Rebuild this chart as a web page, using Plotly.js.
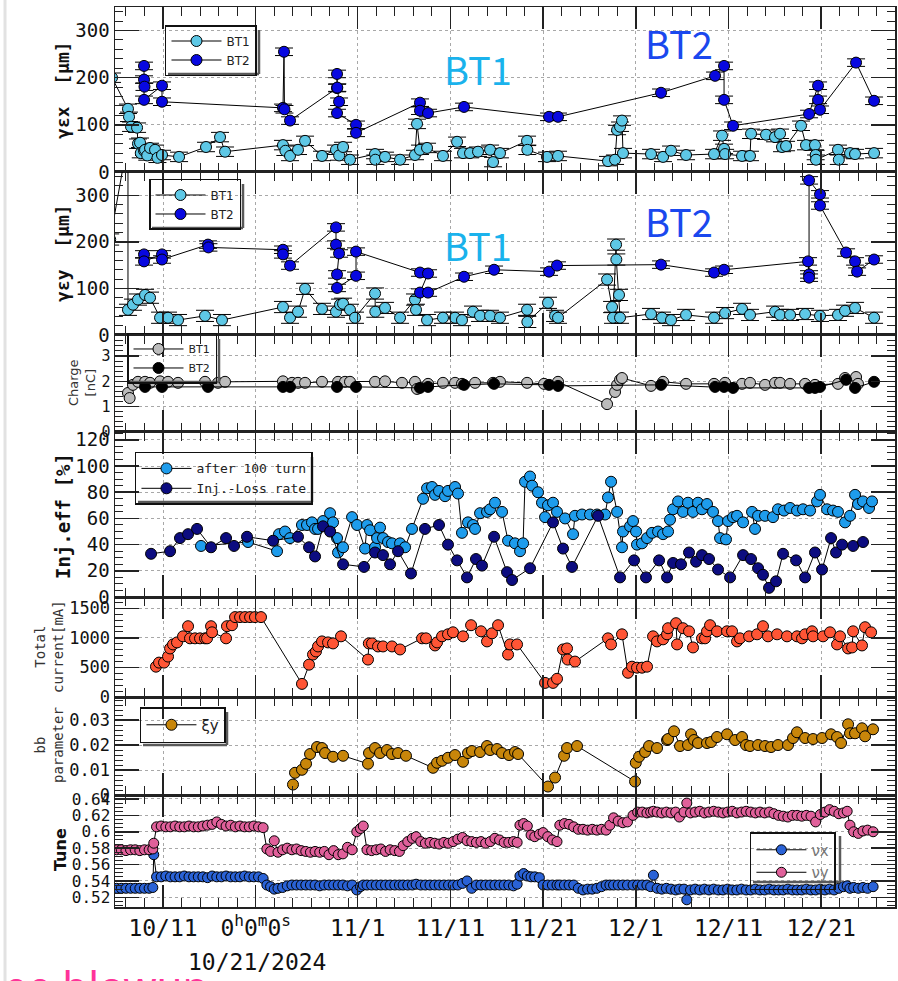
<!DOCTYPE html>
<html><head><meta charset="utf-8">
<script src="https://cdn.plot.ly/plotly-3.0.1.min.js"></script>
<style>html,body{margin:0;padding:0;background:#fff;}#chart{width:898px;height:981px;}</style>
</head><body><div id="chart"></div>
<script>
// All x values are days counted from 2024-10-01 00:00
const majorTickDates = ['2024-10-11','2024-10-21','2024-11-01','2024-11-11','2024-11-21','2024-12-01','2024-12-11','2024-12-21'];
const majorTickText = ['10/11','0<sup>h</sup>0<sup>m</sup>0<sup>s</sup>','11/1','11/11','11/21','12/1','12/11','12/21'];

// Panel 1: gamma eps x
const exBT1Day = [4.5,6.22,6.33,6.55,7.2,7.3,7.52,7.6,7.95,8.06,
 8.3,8.6,9.14,9.4,9.89,11.73,14.64,16.15,16.69,22.94,
 23.2,23.7,24.56,25.32,27.15,28.66,29.0,29.42,30.17,32.87,
 32.9,33.95,35.57,37.18,37.4,37.72,38.48,40.2,41.72,42.36,
 43.12,43.98,45.28,45.6,46.35,49.27,49.3,51.42,52.61,58.0,
 58.76,58.98,59.3,59.51,59.62,62.64,63.94,64.8,66.42,69.44,
 70.3,70.52,70.63,72.46,73.32,73.43,75.05,76.02,76.56,76.77,
 77.21,78.82,79.36,80.33,80.4,80.44,82.81,82.9,84.11,84.65,
 86.7];
const exBT1 = [200,134,117,96,94,60,62,40,45,47,
 35,51,47,30,36,32,53,74,43,57,
 45,34,47,66,34,47,35,53,26,38,
 26,32,26,36,102,47,51,34,64,40,
 40,43,47,21,40,66,47,32,34,23,
 26,89,96,109,40,38,32,45,36,38,
 77,49,38,34,34,81,79,74,81,53,
 55,98,57,57,36,26,47,26,40,38,
 40];
const exBT2Day = [7.95,7.95,8.0,7.95,9.89,9.89,22.94,23.05,23.1,23.7,
 28.77,28.77,28.8,28.99,28.77,30.82,30.82,37.72,37.72,38.59,
 42.47,51.64,52.61,63.72,69.55,70.52,70.52,71.49,79.69,80.66,
 80.66,80.87,84.76,86.7];
const exBT2 = [225,196,181,153,183,149,136,255,133,109,
 178,208,179,149,125,100,83,147,130,125,
 138,117,117,168,204,225,153,98,123,183,
 153,132,232,151];

// Panel 2: gamma eps y
const eyBT1Day = [4.3,6.22,6.22,6.76,7.3,8.06,8.6,9.68,10.54,11.62,
 14.53,16.36,22.94,23.7,24.56,25.32,27.15,28.66,29.09,29.42,
 30.17,30.71,32.87,32.9,33.95,35.57,37.18,37.29,38.48,40.2,
 41.5,42.25,43.44,44.2,45.28,46.35,49.27,49.3,51.53,52.29,
 52.61,57.9,58.44,58.54,58.87,58.9,59.19,59.3,62.64,63.83,
 64.8,66.42,69.44,70.63,72.46,73.32,76.02,76.56,77.64,79.26,
 80.87,82.81,83.57,84.65,86.7];
const eyBT1 = [205,420,54,65,76,86,80,37,37,32,
 41,32,60,37,50,99,56,50,65,67,
 54,37,89,50,58,37,76,54,32,37,
 37,32,50,41,41,37,54,28,69,41,
 37,119,60,37,194,162,86,37,45,37,
 32,43,37,47,56,43,50,43,43,45,
 41,43,52,58,37];
const eyBT2Day = [7.95,7.95,9.89,9.89,14.85,14.9,22.94,22.94,23.7,28.66,
 28.66,28.99,28.77,28.77,30.82,30.82,37.72,38.59,37.72,38.59,
 42.47,45.71,51.64,52.5,63.72,69.44,70.52,79.58,79.69,79.69,
 79.69,80.87,80.87,83.68,84.65,84.87,86.7];
const eyBT2 = [173,158,173,162,194,188,183,173,149,231,
 194,175,130,101,127,179,134,132,91,91,
 125,140,136,149,151,134,140,158,130,123,
 332,302,278,177,158,136,162];

// Panel 3: charge
const chBT1Day = [6.22,6.4,6.76,7.3,8.06,8.6,9.68,10.54,11.62,14.53,
 15.93,16.69,22.94,23.92,24.56,25.32,27.15,28.88,29.63,30.17,
 32.87,33.95,35.78,37.18,37.4,38.59,40.2,41.5,42.25,43.66,
 45.6,46.35,49.27,51.1,52.61,57.9,58.76,58.98,59.3,59.51,
 62.64,63.94,66.42,69.44,70.63,72.46,73.32,74.94,76.02,76.56,
 77.64,79.26,80.33,82.81,83.57,84.76,84.97];
const chBT1 = [1.54,1.34,1.86,1.98,1.98,1.94,2.0,1.98,1.94,1.98,
 1.94,1.98,2.0,1.94,1.94,1.94,1.98,1.98,1.98,1.98,
 1.98,2.0,1.94,1.98,1.7,1.9,1.94,1.94,1.9,1.94,
 1.94,1.98,1.94,1.9,1.98,1.1,1.58,1.86,2.06,2.13,
 1.82,1.98,1.9,1.9,1.94,1.9,1.94,1.86,1.94,1.94,
 1.9,1.9,1.86,1.9,2.13,2.17,1.9];
const chBT2Day = [8.06,9.89,14.85,22.94,23.7,28.77,30.82,37.72,38.59,42.47,
 45.71,51.64,52.61,63.72,69.55,70.52,71.49,79.69,80.33,80.87,
 83.68,84.65,86.7];
const chBT2 = [1.78,1.78,1.78,1.78,1.78,1.78,1.78,1.74,1.78,1.86,
 1.9,1.86,1.82,1.86,1.78,1.78,1.74,1.74,1.74,1.78,
 2.06,1.74,1.98];

// Panel 4: injection efficiency
const effDay = [14.10,19.17,22.30,22.51,23.16,23.70,24.99,25.53,26.07,26.40,
 26.72,27.26,28.02,28.34,28.77,28.88,29.42,30.39,30.93,31.79,
 32.01,32.33,32.87,33.09,33.41,33.73,34.27,34.70,35.57,36.11,
 36.86,38.05,38.48,39.02,39.34,39.77,40.42,40.74,41.50,41.82,
 42.25,42.90,43.44,43.66,44.20,44.95,45.28,45.81,46.57,47.22,
 47.97,48.51,48.84,49.05,49.59,49.81,50.45,50.88,51.21,51.53,
 52.07,52.50,53.37,54.23,54.44,55.20,56.06,56.82,57.68,58.00,
 58.33,58.98,59.51,59.62,60.38,60.70,61.03,61.13,61.67,62.21,
 62.75,63.40,63.94,64.48,64.69,65.02,65.56,66.09,66.63,67.17,
 67.71,68.14,68.68,69.33,69.87,70.09,70.73,70.95,71.49,71.92,
 72.57,73.54,73.86,74.19,74.94,75.80,76.34,76.99,77.64,78.39,
 79.04,79.80,80.55,80.87,81.63,82.27,82.81,83.57,84.11,84.65,
 84.97,85.51,86.16,86.48];
const eff100 = [39,42,35,48,50,45,55,55,57,52,
 52,58,64,57,45,34,38,61,55,37,
 55,51,38,45,53,45,42,41,41,38,
 52,75,83,84,78,81,77,81,84,79,
 49,57,55,52,64,65,67,72,65,43,
 41,35,41,88,92,85,80,72,61,70,
 72,65,60,48,62,63,63,63,63,76,
 88,65,38,50,54,58,50,40,41,45,
 49,50,48,50,59,67,73,65,72,65,
 72,67,71,65,58,45,44,58,61,62,
 57,65,52,62,62,61,67,66,68,66,
 67,66,73,78,67,66,65,57,62,78,
 71,73,68,73];
const lossDay = [8.71,10.76,11.83,12.70,13.67,15.18,16.80,17.66,19.06,21.87,
 24.56,25.75,26.40,27.26,28.02,29.42,31.68,32.87,33.73,34.49,
 35.35,36.75,38.26,39.77,40.74,41.72,42.79,43.76,44.41,45.71,
 47.11,47.65,49.59,52.07,53.15,54.12,56.93,59.30,60.81,62.10,
 63.51,64.37,65.02,65.88,66.74,67.50,68.14,68.90,69.87,71.17,
 72.57,73.43,74.19,74.72,75.37,76.13,76.88,78.29,79.26,80.33,
 81.09,82.06,82.60,83.25,84.44,85.51];
const lossRate = [33,35,45,48,52,38,45,39,46,43,
 46,38,31,54,50,25,23,34,32,25,
 35,18,52,55,40,28,15,29,24,46,
 19,13,22,57,37,23,62,15,28,15,
 28,15,26,25,34,27,32,29,21,15,
 32,29,22,17,7,12,33,28,15,34,
 21,45,34,40,39,42];

// Panel 5: total current [mA]
const curDay = [9.24,9.57,10.11,10.54,10.76,11.08,11.51,12.16,12.70,12.91,
 13.45,13.99,14.53,14.75,15.18,15.29,16.80,16.90,17.44,17.77,
 18.31,18.85,19.39,19.92,20.57,24.99,25.75,26.18,26.50,26.72,
 27.15,27.80,28.34,29.20,32.11,32.20,32.55,33.19,33.73,34.70,
 35.57,37.94,38.37,39.34,39.56,40.10,40.74,41.28,42.36,43.23,
 44.30,44.95,45.49,46.14,47.22,47.43,48.19,51.21,52.07,52.50,
 53.15,53.58,53.65,54.44,58.00,58.33,59.51,60.16,60.59,61.13,
 61.67,62.21,62.86,63.29,63.94,64.37,64.48,65.34,65.45,66.09,
 66.74,67.17,68.14,68.47,68.68,69.01,69.76,70.84,71.38,71.92,
 72.24,73.22,74.08,74.72,75.26,76.24,77.31,78.39,78.93,79.26,
 80.01,80.12,81.20,81.95,82.71,83.03,83.90,84.33,84.44,85.40,
 85.73,86.38];
const current = [513,582,582,684,821,889,923,1026,1197,992,
 992,992,992,992,1197,1094,992,1197,1214,1351,
 1351,1351,1351,1351,1351,222,547,718,770,855,
 940,923,906,1026,633,906,906,855,855,855,
 804,992,992,872,923,1026,1060,1094,1026,1214,
 1111,940,1077,1214,718,889,889,239,239,308,
 804,821,633,599,992,889,1060,410,513,496,
 496,513,1026,940,975,1060,1163,1248,889,1163,
 1111,838,992,992,1111,1214,1111,1111,1111,940,
 992,1026,1060,1197,1026,1060,1026,1026,992,1060,
 1111,1026,1026,1094,889,1026,821,838,1111,872,
 1180,1094];

// Panel 6: beam-beam parameter xi_y
const xiDay = [24.02,24.24,24.99,25.43,25.86,26.61,27.15,27.48,28.34,29.42,
 32.11,32.22,32.87,33.41,34.16,34.70,35.35,36.21,39.13,39.56,
 40.10,40.74,41.50,42.36,42.90,43.33,44.20,44.95,45.28,46.03,
 46.57,47.32,47.97,48.30,51.53,52.29,53.26,53.58,54.66,60.92,
 61.00,61.35,62.00,62.43,63.29,64.37,64.48,65.12,65.77,66.63,
 66.96,67.28,67.71,68.68,69.12,69.76,70.84,71.71,72.46,72.89,
 73.32,74.19,74.94,75.59,76.34,77.42,77.96,78.39,79.26,80.12,
 81.09,82.06,82.71,83.14,83.90,84.11,84.65,85.40,85.73,86.59];
const xiY = [0.0042,0.0089,0.0101,0.0125,0.0164,0.0192,0.0188,0.0168,0.0153,0.0157,
 0.0125,0.0168,0.0188,0.0168,0.018,0.0164,0.0168,0.0157,0.0109,0.0129,
 0.0137,0.0149,0.016,0.0133,0.0168,0.0176,0.0172,0.0196,0.018,0.0184,
 0.0168,0.016,0.0172,0.0164,0.0034,0.007,0.0157,0.0188,0.0196,0.0054,
 0.0129,0.0153,0.0172,0.0196,0.0188,0.022,0.0224,0.0255,0.0196,0.02,
 0.0243,0.022,0.0208,0.0208,0.0212,0.0232,0.0243,0.022,0.0232,0.02,
 0.0196,0.02,0.0196,0.0192,0.02,0.02,0.0228,0.0251,0.0228,0.0224,
 0.0228,0.0243,0.0232,0.0208,0.0283,0.0247,0.0247,0.0267,0.0235,0.0263];

// Panel 7: tune
const tuneDay = [5.0,5.5,6.0,6.5,7.0,7.5,8.0,8.5,8.9,9.0,
 9.3,9.8,10.3,10.8,11.3,11.8,12.3,12.8,13.3,13.8,
 14.3,14.8,15.3,15.8,16.3,16.8,17.3,17.8,18.3,18.8,
 19.3,19.8,20.3,20.8,21.2,21.6,22.0,22.4,22.9,23.4,
 23.9,24.4,24.9,25.4,25.9,26.4,26.9,27.4,27.9,28.4,
 28.9,29.4,29.9,30.4,30.9,31.3,31.6,32.0,32.5,33.0,
 33.5,34.0,34.5,35.0,35.5,35.9,36.4,36.9,37.3,37.8,
 38.3,38.8,39.3,39.8,40.3,40.8,41.3,41.8,42.3,42.8,
 43.3,43.8,44.3,44.8,45.3,45.8,46.3,46.8,47.3,47.8,
 48.2,48.5,48.9,49.3,49.7,50.1,50.6,51.0,51.5,52.0,
 52.5,52.8,53.3,53.8,54.3,54.8,55.3,55.8,56.3,56.8,
 57.3,57.8,58.2,58.6,59.1,59.6,60.1,60.7,61.2,61.7,
 62.2,62.6,62.9,63.3,63.8,64.3,64.8,65.3,65.7,66.2,
 66.5,66.9,67.4,67.9,68.4,68.9,69.4,69.9,70.4,70.9,
 71.4,71.9,72.4,72.9,73.4,73.9,74.4,74.9,75.4,75.9,
 76.4,76.9,77.4,77.9,78.4,78.9,79.4,79.9,80.4,80.9,
 81.4,81.9,82.4,82.9,83.4,83.8,84.1,84.5,85.0,85.5,86.0,86.6];
const nuY = [.578,.578,.577,.578,.578,.577,.578,.578,.579,.586,
 .606,.607,.606,.606,.607,.606,.606,.607,.606,.606,
 .607,.608,.609,.612,.609,.607,.608,.606,.607,.606,
 .606,.607,.606,.605,.579,.576,.589,.575,.578,.580,
 .578,.579,.577,.576,.575,.576,.575,.576,.572,.577,
 .572,.573,.581,.578,.600,.604,.607,.578,.577,.578,
 .579,.576,.578,.577,.576,.583,.588,.592,.594,.588,
 .586,.587,.586,.585,.587,.586,.588,.591,.593,.589,
 .588,.587,.588,.586,.588,.592,.590,.587,.587,.588,
 .587,.608,.610,.607,.596,.594,.597,.599,.594,.590,
 .588,.608,.610,.609,.606,.603,.603,.602,.603,.602,
 .603,.602,.608,.617,.613,.611,.612,.620,.624,.624,
 .623,.624,.625,.624,.623,.624,.623,.624,.618,.624,
 .635,.623,.624,.625,.623,.624,.625,.624,.623,.624,
 .625,.623,.624,.625,.624,.623,.624,.623,.624,.622,
 .620,.619,.618,.620,.620,.619,.620,.619,.612,.621,
 .624,.627,.625,.622,.623,.625,.608,.600,.598,.601,.602,.600];
const nuX = [.531,.531,.531,.531,.531,.531,.531,.531,.532,.572,
 .545,.545,.546,.545,.545,.545,.546,.545,.545,.545,
 .545,.544,.546,.545,.545,.546,.545,.545,.545,.546,
 .545,.545,.545,.543,.535,.533,.530,.531,.532,.534,
 .535,.535,.535,.535,.535,.535,.534,.535,.535,.535,
 .535,.535,.534,.535,.529,.533,.535,.535,.535,.535,
 .535,.535,.535,.535,.535,.535,.535,.535,.536,.535,
 .535,.535,.535,.535,.535,.535,.535,.535,.537,.540,
 .531,.535,.535,.535,.535,.535,.535,.535,.535,.534,
 .536,.546,.549,.546,.545,.545,.544,.535,.535,.535,
 .535,.535,.535,.535,.535,.531,.529,.530,.530,.531,
 .533,.535,.535,.535,.535,.535,.535,.535,.535,.535,
 .535,.533,.547,.531,.530,.531,.530,.529,.530,.530,
 .517,.529,.530,.529,.530,.529,.530,.529,.529,.530,
 .529,.529,.530,.529,.529,.530,.529,.529,.530,.529,
 .529,.529,.530,.529,.529,.529,.530,.529,.529,.530,
 .529,.530,.529,.531,.533,.534,.531,.532,.531,.532,.531,.533];

// ---------- helpers ----------
const MS = 86400000, T0 = Date.UTC(2024, 9, 1);
function toDate(d){ return new Date(T0 + Math.round(d*MS)).toISOString().slice(0,19).replace('T',' '); }
const X0 = 4.82, X1 = 88.96;
// minor x ticks: odd days of each month
const minorVals = [];
for (let m = 9; m <= 11; m++) for (let day = 1; day <= 31; day += 2) {
  const t = Date.UTC(2024, m, day);
  if (new Date(t).getUTCMonth() !== m) continue;
  const d = (t - T0)/MS;
  if (d > X0 && d < X1) minorVals.push(toDate(d));
}
function ax(i){ return i === 1 ? '' : String(i); }
function series(days, vals, name, color, panel, legend, extra){
  return Object.assign({
    type:'scatter', mode:'lines+markers', name: name,
    x: days.map(toDate), y: vals,
    xaxis:'x'+ax(panel), yaxis:'y'+ax(panel), legend: legend,
    line:{color:'#000', width:1},
    marker:{color: color, size:11, line:{color:'#000', width:1}},
    hoverinfo:'skip'
  }, extra || {});
}
const errY = v => ({type:'constant', value:v, color:'#000', thickness:1, width:9});

const C = {bt1:'#5ec8e6', bt2:'#0808e0', ch1:'#bcbcbc', ch2:'#000000',
  eff:'#1e9cec', loss:'#0c0c80', cur:'#ff5535', xi:'#c8860a', nux:'#2a62d6', nuy:'#e0609a'};

const data = [
  series(exBT1Day, exBT1, 'BT1', C.bt1, 1, 'legend', {error_y: errY(10)}),
  series(exBT2Day, exBT2, 'BT2', C.bt2, 1, 'legend', {error_y: errY(8)}),
  series(eyBT1Day, eyBT1, 'BT1', C.bt1, 2, 'legend2', {error_y: errY(12)}),
  series(eyBT2Day, eyBT2, 'BT2', C.bt2, 2, 'legend2', {error_y: errY(8)}),
  series(chBT1Day, chBT1, 'BT1', C.ch1, 3, 'legend3'),
  series(chBT2Day, chBT2, 'BT2', C.ch2, 3, 'legend3'),
  series(effDay, eff100, 'after 100 turn', C.eff, 4, 'legend4'),
  series(lossDay, lossRate, 'Inj.-Loss rate', C.loss, 4, 'legend4'),
  series(curDay, current, 'Total current', C.cur, 5, 'legend', {showlegend:false}),
  series(xiDay, xiY, 'ξy', C.xi, 6, 'legend5'),
  series(tuneDay, nuX, 'νx', C.nux, 7, 'legend6', {marker:{color:C.nux, size:10, line:{color:'#000', width:1}}}),
  series(tuneDay, nuY, 'νy', C.nuy, 7, 'legend6', {marker:{color:C.nuy, size:10, line:{color:'#000', width:1}}})
];

// panel geometry (paper fractions) and y-axis styling
const panelDom = [[0.8167,1],[0.6356,0.8167],[0.5278,0.6356],[0.3444,0.5278],[0.2333,0.3444],[0.1244,0.2333],[0,0.1244]];
const panelRange = [[0,350],[0,350],[0,3.83],[0,126],[0,1690],[0,0.0392],[0.5082,0.6448]];
const panelDtick = [100,100,1,20,500,0.01,0.02];
const panelMinor = [20,20,0.2,5,100,0.002,0.005];
const panelFont = [19,19,15,19,17,17,16];

const layout = {
  width:898, height:981,
  margin:{l:115, r:3, t:7, b:74},
  paper_bgcolor:'#fff', plot_bgcolor:'#fff',
  font:{family:'DejaVu Sans Mono', color:'#111'},
  hovermode:false,
  annotations:[], shapes:[]
};
const LINE = '#222';
for (let i = 1; i <= 7; i++){
  const xa = {
    domain:[0,1], anchor:'y'+ax(i), type:'date', range:[toDate(X0), toDate(X1)],
    tickmode:'array', tickvals: majorTickDates, ticktext: majorTickText, showticklabels: i === 7,
    ticks:'inside', ticklen:22, tickwidth:1.5, tickcolor:LINE,
    showline:true, linecolor:LINE, linewidth:1.5, mirror:'ticks',
    showgrid:true, gridcolor:'#a8a8a8', griddash:'dot', gridwidth:1, zeroline:false,
    tickfont:{family:'DejaVu Sans Mono', size:23, color:'#111'},
    minor:{tickmode:'array', tickvals:minorVals, ticks:'inside', ticklen:9, tickwidth:1, tickcolor:LINE, showgrid:false},
    fixedrange:true
  };
  if (i > 1) xa.matches = 'x';
  layout['xaxis'+ax(i)] = xa;
  const ya = {
    domain: panelDom[i-1], anchor:'x'+ax(i), range: panelRange[i-1],
    tickmode:'linear', tick0: 0, dtick: panelDtick[i-1],
    ticks:'inside', ticklen:24, tickwidth:1.5, tickcolor:LINE,
    showline:true, linecolor:LINE, linewidth:1.5, mirror:'ticks', zeroline:false,
    showgrid:true, gridcolor:'#a8a8a8', griddash:'dot', gridwidth:1,
    tickfont:{family:'DejaVu Sans Mono', size: panelFont[i-1], color:'#111'},
    minor:{tickmode:'linear', tick0:0, dtick: panelMinor[i-1], ticks:'inside', ticklen:8, tickwidth:1, tickcolor:LINE, showgrid:false},
    fixedrange:true
  };
  if (i === 5) ya.tickformat = 'd';
  layout['yaxis'+ax(i)] = ya;
}

// legends (transparent background, framed, with a drop shadow on the right/bottom)
const legBase = {xref:'paper', yref:'paper', xanchor:'left', yanchor:'top', bgcolor:'rgba(255,255,255,0)',
  bordercolor:'#111', borderwidth:1.5, itemwidth:50, tracegroupgap:0, itemclick:false};
layout.legend  = Object.assign({}, legBase, {x:0.0641, y:0.980, font:{family:'DejaVu Sans', size:12, color:'#222'}});
layout.legend2 = Object.assign({}, legBase, {x:0.0436, y:0.8089, font:{family:'DejaVu Sans', size:12, color:'#222'}});
layout.legend3 = Object.assign({}, legBase, {x:0.0154, y:0.6378, font:{family:'DejaVu Sans', size:11, color:'#222'}});
layout.legend4 = Object.assign({}, legBase, {x:0.0256, y:0.5056, font:{family:'DejaVu Sans Mono', size:13, color:'#222'}});
layout.legend5 = Object.assign({}, legBase, {x:0.032, y:0.2222, font:{family:'DejaVu Sans', size:15, color:'#222'}});
layout.legend6 = Object.assign({}, legBase, {x:0.814, y:0.0833, font:{family:'DejaVu Sans', size:15, color:'#777'}});

const PL = 115, PT = 7, PW = 780, PH = 900;
const px = v => (v - PL) / PW, py = v => 1 - (v - PT) / PH;
// approximate pixel boxes of the drawn legends: [left, top, right, bottom]
const legendBoxes = [[165,27,257,72],[149,181,241,226],[127,336,217,380],[135,454,310,500],[140,709,225,743],[750,833,838,880]];
legendBoxes.forEach(([l,t,r,b]) => {
  const sh = {type:'line', xref:'paper', yref:'paper', layer:'above', line:{color:'#5a5a5a', width:2.5}};
  layout.shapes.push(Object.assign({}, sh, {x0:px(r+2), x1:px(r+2), y0:py(t+3), y1:py(b+2)}));
  layout.shapes.push(Object.assign({}, sh, {x0:px(l+3), x1:px(r+2), y0:py(b+2), y1:py(b+2)}));
});

// text annotations
function pa(text, x, y, font, extra){
  layout.annotations.push(Object.assign({text, x, y, xref:'paper', yref:'paper', showarrow:false,
    xanchor:'center', yanchor:'middle', font}, extra || {}));
}
const bigFont1 = {family:'Noto Sans CJK JP', size:38, color:'#1ab2ec'};
const bigFont2 = {family:'Noto Sans CJK JP', size:38, color:'#1a48ee'};
pa('BT1', 0.4654, 0.9322, bigFont1);
pa('BT2', 0.7231, 0.9611, bigFont2);
pa('BT1', 0.4654, 0.7356, bigFont1);
pa('BT2', 0.7231, 0.7633, bigFont2);
const rot = {textangle:-90};
pa('<b>γεx  [μm]</b>', -0.0667, 0.9078, {family:'DejaVu Sans Mono', size:18, color:'#111'}, rot);
pa('<b>γεy  [μm]</b>', -0.0667, 0.7267, {family:'DejaVu Sans Mono', size:18, color:'#111'}, rot);
pa('Charge<br>[nC]', -0.0423, 0.5822, {family:'DejaVu Sans', size:13, color:'#333'}, rot);
pa('<b>Inj.eff [%]</b>', -0.0667, 0.4344, {family:'DejaVu Sans Mono', size:19, color:'#111'}, rot);
pa('Total<br>current[mA]', -0.0846, 0.2889, {family:'DejaVu Sans Mono', size:14, color:'#333'}, rot);
pa('bb<br>parameter', -0.0846, 0.18, {family:'DejaVu Sans Mono', size:14, color:'#333'}, rot);
pa('<b>Tune</b>', -0.0705, 0.0633, {family:'DejaVu Sans', size:16, color:'#111'}, rot);
pa('10/21/2024', 0.182, -0.0611, {family:'DejaVu Sans Mono', size:23, color:'#111'});
pa('ee blowup', -0.1445, -0.0533, {family:'Noto Sans', size:42, color:'#ff3399'}, {xanchor:'left', yanchor:'top'});

// faint page border on the left
layout.shapes.push({type:'line', xref:'paper', yref:'paper', x0:-0.1410, x1:-0.1410, y0:-0.09, y1:1.01,
  line:{color:'#e2e2e2', width:3}});

Plotly.newPlot('chart', data, layout, {staticPlot:true, displayModeBar:false});
</script>
</body></html>
